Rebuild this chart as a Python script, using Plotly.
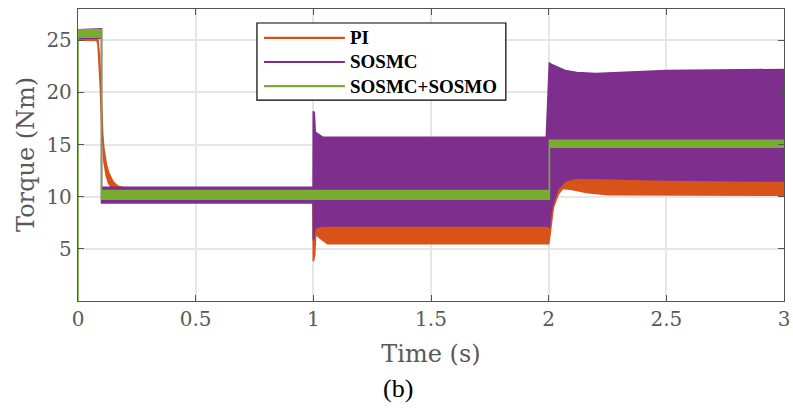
import plotly.graph_objects as go

# series names and colours (MATLAB default order)
names = ["PI", "SOSMC", "SOSMC+SOSMO"]
colors = ["#D95319", "#7E2F8E", "#77AC30"]

# PI: time breakpoints with upper / lower envelope of the oscillating torque (Nm)
pi_t = [0.0, 0.08, 0.085, 0.09, 0.095, 0.1, 0.105, 0.11, 0.12, 0.13, 0.15, 0.17, 0.2, 0.999,
        1.0, 1.006, 1.01, 1.03, 1.06, 1.99, 2.0, 2.005, 2.01, 2.02, 2.04, 2.06, 2.1, 2.16,
        2.25, 2.4, 2.7, 3.0]
pi_hi = [25.3, 25.3, 25.0, 23.8, 21.5, 18.5, 16.0, 14.6, 13.2, 12.3, 11.4, 11.0, 10.8, 10.7,
         7.6, 7.5, 7.4, 7.4, 7.3, 7.3, 7.4, 8.5, 9.8, 10.8, 11.5, 11.8, 11.9, 12.0,
         11.9, 11.8, 11.7, 11.7]
pi_lo = [25.0, 25.0, 24.6, 23.0, 20.5, 17.5, 15.0, 13.4, 12.0, 11.3, 10.6, 10.3, 10.2, 10.2,
         3.8, 4.5, 6.4, 6.0, 5.5, 5.5, 5.5, 6.3, 7.5, 9.0, 10.2, 10.8, 10.7, 10.4,
         10.2, 10.15, 10.15, 10.15]

# SOSMC
smc_t = [0.0, 0.1, 0.1, 0.999, 1.0, 1.004, 1.008, 1.02, 1.04, 1.99, 2.0, 2.003, 2.01, 2.02,
         2.04, 2.07, 2.12, 2.2, 2.3, 2.5, 3.0]
smc_hi = [26.0, 26.1, 10.9, 10.9, 18.2, 18.0, 16.2, 16.0, 15.7, 15.7, 22.7, 22.8, 22.7, 22.6,
          22.4, 22.1, 21.9, 21.8, 21.9, 22.1, 22.2]
smc_lo = [25.2, 25.2, 9.4, 9.4, 5.8, 6.5, 7.0, 7.1, 7.2, 7.2, 7.2, 7.0, 8.5, 9.5,
          10.8, 11.5, 11.8, 11.8, 11.7, 11.6, 11.5]

# SOSMC+SOSMO
obs_t = [0.0, 0.0, 0.1, 0.1, 2.003, 2.003, 3.0]
obs_hi = [26.0, 26.0, 26.0, 10.6, 10.6, 15.4, 15.4]
obs_lo = [0.0, 25.3, 25.3, 9.75, 9.75, 14.75, 14.75]

x_ticks = [0, 0.5, 1, 1.5, 2, 2.5, 3]
x_labels = ["0", "0.5", "1", "1.5", "2", "2.5", "3"]
y_ticks = [5, 10, 15, 20, 25]

series = [(pi_t, pi_hi, pi_lo), (smc_t, smc_hi, smc_lo), (obs_t, obs_hi, obs_lo)]

fig = go.Figure()
for (t, hi, lo), name, col in zip(series, names, colors):
    # band polygon: upper edge forward, lower edge back
    fig.add_trace(go.Scatter(
        x=t + t[::-1], y=hi + lo[::-1],
        mode="lines", fill="toself", fillcolor=col,
        line=dict(color=col, width=1.6),
        name=name, showlegend=False, hoverinfo="skip"))

axis_col = "#555555"
tick_font = dict(family="DejaVu Serif", size=20, color="#595959")
title_font = dict(family="DejaVu Serif", size=24, color="#595959")

fig.update_xaxes(
    range=[0, 3], tickvals=x_ticks, ticktext=x_labels,
    showgrid=True, gridcolor="#e6e6e6", gridwidth=2,
    ticks="inside", ticklen=6, tickcolor=axis_col, tickwidth=1.2,
    showline=True, linecolor=axis_col, linewidth=1.3, mirror="ticks",
    zeroline=False, tickfont=tick_font, automargin=False,
    title=dict(text="Time (s)", font=title_font))
fig.update_yaxes(
    range=[0, 28], tickvals=y_ticks,
    showgrid=True, gridcolor="#e6e6e6", gridwidth=2,
    ticks="inside", ticklen=6, tickcolor=axis_col, tickwidth=1.2,
    showline=True, linecolor=axis_col, linewidth=1.3, mirror="ticks",
    zeroline=False, tickfont=tick_font, ticklabelstandoff=1, automargin=False)

# legend drawn in MATLAB style (long line samples)
shapes = [dict(type="rect", xref="paper", yref="paper", x0=0.2535, x1=0.606, y0=0.688, y1=0.952,
               line=dict(color="black", width=1.2), fillcolor="white", layer="above")]
annotations = []
for i, (name, col) in enumerate(zip(names, colors)):
    yy = 0.901 - i * 0.0825
    shapes.append(dict(type="line", xref="paper", yref="paper", x0=0.2635, x1=0.378, y0=yy, y1=yy,
                       line=dict(color=col, width=2.2), layer="above"))
    annotations.append(dict(text="<b>" + name + "</b>", xref="paper", yref="paper", x=0.382, y=yy,
                            xanchor="left", yanchor="middle", showarrow=False,
                            font=dict(family="serif", size=19, color="black")))
# y-axis title placed like MATLAB's (closer to the tick labels)
annotations.append(dict(text="Torque (Nm)", xref="paper", yref="paper", x=(26 - 78) / 706, y=0.5,
                        textangle=-90, xanchor="center", yanchor="middle", showarrow=False,
                        font=title_font))
annotations.append(dict(text="(b)", xref="paper", yref="paper", x=(398 - 78) / 706,
                        y=-(389 - 301) / 292, xanchor="center", yanchor="middle", showarrow=False,
                        font=dict(family="serif", size=26, color="black")))

fig.update_layout(
    width=793, height=409,
    margin=dict(l=78, r=9, t=9, b=108),
    plot_bgcolor="white", paper_bgcolor="white",
    shapes=shapes, annotations=annotations,
    showlegend=False)

# drop the browser's default page margin so the figure sits at the window origin
fig.write_html("out.html", config={"displayModeBar": False},
               post_script="document.body.style.margin='0px';")
